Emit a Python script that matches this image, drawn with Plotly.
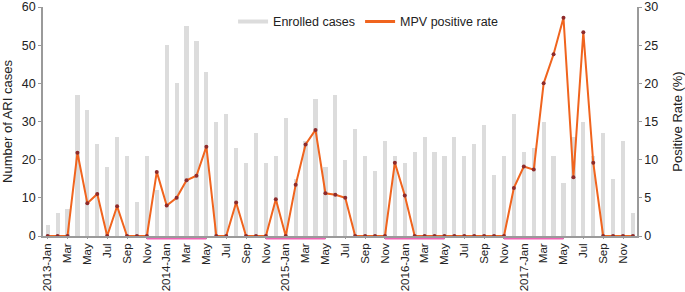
import plotly.graph_objects as go

years = [2013, 2014, 2015, 2016, 2017]
month_names = ["Jan", "Feb", "Mar", "Apr", "May", "Jun",
               "Jul", "Aug", "Sep", "Oct", "Nov", "Dec"]

# Enrolled ARI cases per month (left axis)
cases = [3, 6, 7, 37, 33, 24, 18, 26, 21, 9, 21, 12,
         50, 40, 55, 51, 43, 30, 32, 23, 19, 27, 19, 21,
         31, 15, 25, 36, 18, 37, 20, 28, 21, 17, 25, 21,
         19, 22, 26, 22, 21, 26, 21, 24, 29, 16, 21, 32,
         22, 23, 30, 21, 14, 26, 30, 21, 27, 15, 25, 6]

# MPV positive rate (%) per month (right axis)
rates = [0, 0, 0, 10.9, 4.3, 5.5, 0, 3.9, 0, 0, 0, 8.4,
         4.0, 5.0, 7.3, 7.9, 11.7, 0, 0, 4.4, 0, 0, 0, 4.8,
         0, 6.7, 12.0, 13.9, 5.6, 5.4, 5.0, 0, 0, 0, 0, 9.6,
         5.3, 0, 0, 0, 0, 0, 0, 0, 0, 0, 0, 6.3,
         9.1, 8.7, 20.0, 23.8, 28.6, 7.7, 26.7, 9.6, 0, 0, 0, 0]

# Season markers (Nov -> May) under the x axis
season_start = ["2013-Nov", "2014-Nov", "2015-Nov", "2016-Nov"]
season_end = ["2014-May", "2015-May", "2016-May", "2017-May"]

keys = [f"{y}-{m}" for y in years for m in month_names]
idx = list(range(len(keys)))
tickvals = [i for i in idx if i % 2 == 0]
ticktext = [keys[i] if keys[i].endswith("Jan") else keys[i].split("-")[1] for i in tickvals]

FONT = "Liberation Sans, Arial, Helvetica, sans-serif"
AXC = "#9a9a9a"

fig = go.Figure()
fig.add_trace(go.Bar(x=idx, y=cases, width=0.42, marker=dict(color="#dcdcdc", line=dict(width=0)),
                     showlegend=False, name="Enrolled cases"))
fig.add_trace(go.Scatter(x=idx, y=rates, yaxis="y2", mode="lines+markers",
                         line=dict(color="#f0641e", width=2),
                         marker=dict(color="#8e2b2b", size=4),
                         showlegend=False, name="MPV positive rate"))
# legend entries
fig.add_trace(go.Scatter(x=[None], y=[None], mode="lines", line=dict(color="#dcdcdc", width=4),
                         name="Enrolled cases"))
fig.add_trace(go.Scatter(x=[None], y=[None], mode="lines", line=dict(color="#f0641e", width=3),
                         name="MPV positive rate", yaxis="y2"))

for s, e in zip(season_start, season_end):
    fig.add_shape(type="line", xref="x", yref="paper", x0=keys.index(s), x1=keys.index(e),
                  y0=-0.012, y1=-0.012, line=dict(color="#f062b4", width=1.5))

fig.update_layout(
    width=685, height=292,
    margin=dict(l=43, r=48, t=7, b=56, autoexpand=False),
    paper_bgcolor="white", plot_bgcolor="white",
    font=dict(family=FONT, size=12, color="#222"),
    bargap=0,
    legend=dict(orientation="h", x=0.32, y=0.935, xanchor="left", yanchor="middle",
                font=dict(size=12.5), bgcolor="rgba(0,0,0,0)", itemwidth=30),
    xaxis=dict(range=[-0.47, 59.41], tickmode="array", tickvals=tickvals, ticktext=ticktext,
               tickangle=-90, showgrid=False, zeroline=False, showline=True, automargin=False,
               linecolor=AXC, linewidth=1.5, ticks="outside", ticklen=1, tickcolor=AXC,
               tickfont=dict(size=11.5)),
    yaxis=dict(range=[0, 60], dtick=10, showgrid=False, zeroline=False, showline=True,
               automargin=False,
               linecolor=AXC, linewidth=1.5, ticks="outside", ticklen=3, tickcolor=AXC,
               tickfont=dict(size=12.5),
               title=dict(text="Number of ARI cases", font=dict(size=13), standoff=6)),
    yaxis2=dict(range=[0, 30], dtick=5, overlaying="y", side="right", showgrid=False,
                automargin=False,
                zeroline=False, showline=True, linecolor=AXC, linewidth=1.5,
                ticks="outside", ticklen=3, tickcolor=AXC, tickfont=dict(size=12.5),
                title=dict(text="Positive Rate (%)", font=dict(size=13), standoff=16)),
)

fig.write_html("out.html", config={"displayModeBar": False},
               post_script="document.body.style.margin='0';document.body.style.padding='0';")
